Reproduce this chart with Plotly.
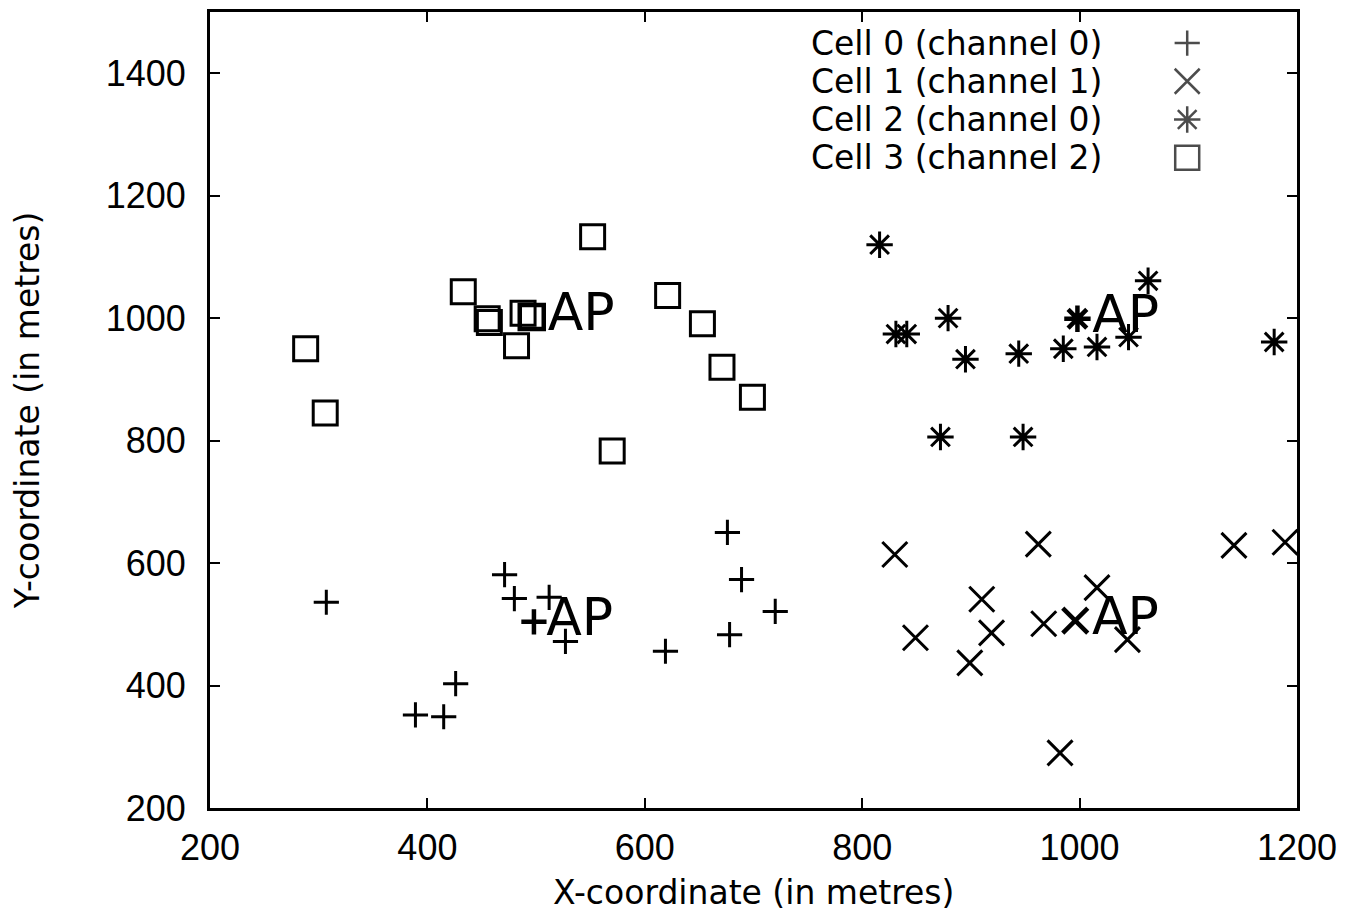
import plotly.graph_objects as go

# ---------------- data ----------------
x_ticks = [200, 400, 600, 800, 1000, 1200]
y_ticks = [200, 400, 600, 800, 1000, 1200, 1400]

cell_names = ["Cell 0 (channel 0)", "Cell 1 (channel 1)",
              "Cell 2 (channel 0)", "Cell 3 (channel 2)"]

cell0_x = [307, 471, 480, 512, 527, 426, 389, 415, 676, 689, 720, 678, 619]
cell0_y = [536, 581, 542, 544, 472, 403, 352, 349, 650, 573, 521, 483, 456]

cell1_x = [830, 962, 1142, 1189, 910, 849, 919, 899, 967, 1016, 1044, 982]
cell1_y = [614, 631, 629, 634, 541, 478, 486, 437, 501, 560, 475, 290]

cell2_x = [816, 831, 841, 879, 895, 944, 985, 1016, 1045, 1063, 1179, 872, 948]
cell2_y = [1120, 974, 974, 1000, 933, 942, 950, 953, 969, 1061, 961, 806, 806]

cell3_x = [288, 306, 433, 455, 457, 488, 482, 552, 621, 653, 671, 699, 570]
cell3_y = [950, 845, 1043, 999, 993, 1008, 955, 1133, 1037, 991, 920, 871, 783]

ap_x = [498, 996, 998, 496]
ap_y = [504, 506, 999, 1002]
ap_label = "AP"

x_title = "X-coordinate (in metres)"
y_title = "Y-coordinate (in metres)"

# ---------------- styles ----------------
cell_symbols = ["cross-thin-open", "x-thin-open", "asterisk-open", "square-open"]
cell_sizes = [18, 25, 22, 24]
cells_x = [cell0_x, cell1_x, cell2_x, cell3_x]
cells_y = [cell0_y, cell1_y, cell2_y, cell3_y]

TICK_FONT = dict(family="Liberation Sans, Arial, sans-serif", size=36, color="black")
TEXT_FONT = "DejaVu Sans, sans-serif"

fig = go.Figure()

for name, xs, ys, sym, size in zip(cell_names, cells_x, cells_y, cell_symbols, cell_sizes):
    fig.add_trace(go.Scatter(
        x=xs, y=ys, mode="markers", name=name, showlegend=False, cliponaxis=False,
        marker=dict(symbol=sym, size=size, color="black",
                    line=dict(color="black", width=3))))

for i in range(len(ap_x)):
    fig.add_trace(go.Scatter(
        x=[ap_x[i]], y=[ap_y[i]], mode="markers+text", text=[ap_label],
        textposition="middle right", showlegend=False, cliponaxis=False,
        textfont=dict(family=TEXT_FONT, size=52, color="black"),
        marker=dict(symbol=cell_symbols[i], size=cell_sizes[i], color="black",
                    line=dict(color="black", width=4.5))))

# legend keys (gnuplot style: text right-aligned, symbol on the right)
legend_key_x = 0.899
legend_text_x = 0.822
legend_top = 0.961
legend_step = 0.048
legend_rows = [legend_top - legend_step * i for i in range(len(cell_names))]

fig.add_trace(go.Scatter(
    x=[legend_key_x] * len(cell_names), y=legend_rows, xaxis="x2", yaxis="y2",
    mode="markers", showlegend=False, cliponaxis=False,
    marker=dict(symbol=cell_symbols, size=cell_sizes, color="black",
                line=dict(color="black", width=2.5))))

annotations = []
for name, yy in zip(cell_names, legend_rows):
    annotations.append(dict(
        x=legend_text_x, y=yy, xref="x2", yref="y2", text=name, showarrow=False,
        xanchor="right", yanchor="middle",
        font=dict(family=TEXT_FONT, size=33, color="black")))

# x-axis title, placed low near the bottom edge as in the original
annotations.append(dict(
    x=0.5, y=-0.106, xref="paper", yref="paper", text=x_title, showarrow=False,
    xanchor="center", yanchor="middle",
    font=dict(family=TEXT_FONT, size=33, color="black")))

axis_common = dict(
    showgrid=False, zeroline=False, showline=True, linecolor="black", linewidth=3,
    mirror="ticks", ticks="inside", ticklen=10, tickwidth=2, tickcolor="black",
    tickfont=TICK_FONT, automargin=False,
)

fig.update_layout(
    width=1343, height=904,
    paper_bgcolor="white", plot_bgcolor="white",
    margin=dict(l=202, r=54, t=4, b=104),
    showlegend=False,
    xaxis=dict(range=[200, 1200], tickvals=x_ticks, ticklabelstandoff=6,
               **axis_common),
    yaxis=dict(range=[200, 1500], tickvals=y_ticks, ticklabelstandoff=14,
               title=dict(text=y_title, standoff=64,
                          font=dict(family=TEXT_FONT, size=33, color="black")),
               **axis_common),
    xaxis2=dict(overlaying="x", range=[0, 1], visible=False),
    yaxis2=dict(overlaying="y", range=[0, 1], visible=False),
    annotations=annotations,
)

fig.write_html("out.html")
